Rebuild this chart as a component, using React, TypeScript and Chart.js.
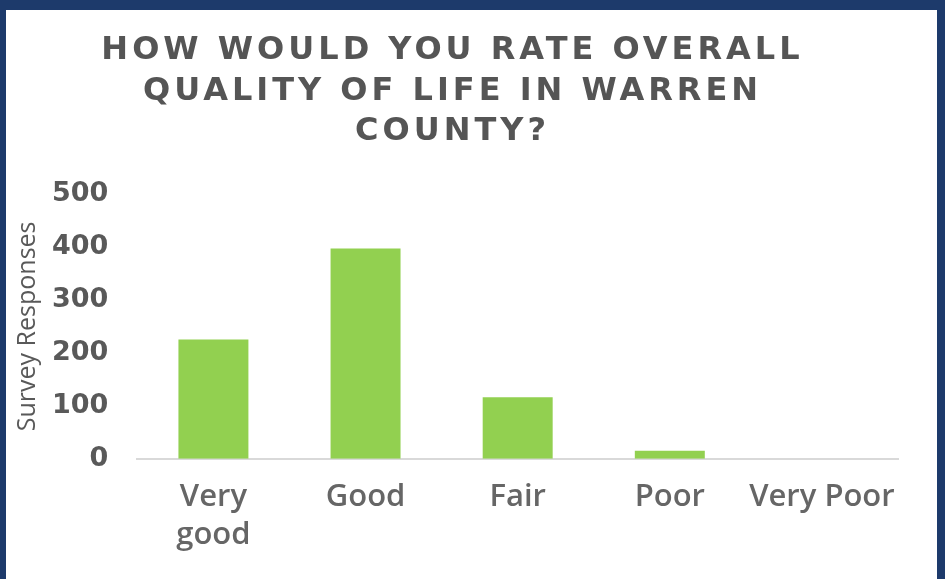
import React, { useEffect, useRef } from "react";
import { Chart, registerables } from "chart.js";

Chart.register(...registerables);

const categories: (string | string[])[] = [["Very", "good"], "Good", "Fair", "Poor", "Very Poor"];
const responses = [225, 397, 116, 15, 0];
const yTicks = [0, 100, 200, 300, 400, 500];
const titleLines = ["HOW WOULD YOU RATE OVERALL", "QUALITY OF LIFE IN WARREN", "COUNTY?"];
const yTitle = "Survey Responses";

const titlePatch = {
  id: "titlePatch",
  beforeDraw(chart: any) {
    const tb = chart.titleBlock;
    if (tb && !tb.__patched) {
      const orig = tb.draw.bind(tb);
      tb.draw = function (area: any) {
        const ctx = chart.ctx;
        ctx.save();
        (ctx as any).letterSpacing = "4px";
        ctx.translate(-3, 0);
        orig(area);
        ctx.restore();
      };
      tb.__patched = true;
    }
  },
};

export default function App() {
  const ref = useRef<HTMLCanvasElement>(null);
  useEffect(() => {
    const chart = new Chart(ref.current!, {
      type: "bar",
      data: {
        labels: categories,
        datasets: [
          {
            data: responses,
            backgroundColor: "#92d050",
            barPercentage: 0.46,
            categoryPercentage: 1,
          },
        ],
      },
      options: {
        animation: false,
        responsive: false,
        layout: { padding: { left: 7, right: 39, top: 21, bottom: 6 } },
        plugins: {
          legend: { display: false },
          tooltip: { enabled: false },
          title: {
            display: true,
            text: titleLines,
            color: "#555555",
            font: { family: "DejaVu Sans", weight: "bold", size: 32, lineHeight: 1.26 },
            padding: { top: 0, bottom: 42 },
          },
        },
        scales: {
          x: {
            grid: { display: false, drawTicks: false },
            border: { display: true, color: "#d9d9d9", width: 2 },
            ticks: {
              color: "#666666",
              font: { family: "Open Sans", weight: "600", size: 31, lineHeight: 1.23 },
              padding: 19,
              maxRotation: 0,
              autoSkip: false,
            },
          },
          y: {
            min: 0,
            max: 500,
            afterBuildTicks: (axis: any) => {
              axis.ticks = yTicks.map((v) => ({ value: v }));
            },
            grid: { display: false, drawTicks: false },
            border: { display: false },
            ticks: {
              color: "#595959",
              font: { family: "DejaVu Sans", weight: "bold", size: 27 },
              padding: 29,
            },
            title: {
              display: true,
              text: yTitle,
              color: "#595959",
              font: { family: "Open Sans", size: 25 },
              padding: { top: 0, bottom: -20 },
            },
          },
        },
      },
      plugins: [titlePatch],
    });
    return () => chart.destroy();
  }, []);
  return (
    <div style={{ position: "fixed", left: 0, top: 0, width: 945, height: 579, background: "#1d3a6b" }}>
      <div style={{ position: "absolute", left: 6, top: 10, width: 931, height: 569, background: "#ffffff" }}>
        <canvas ref={ref} width={931} height={569} style={{ display: "block" }} />
      </div>
    </div>
  );
}
